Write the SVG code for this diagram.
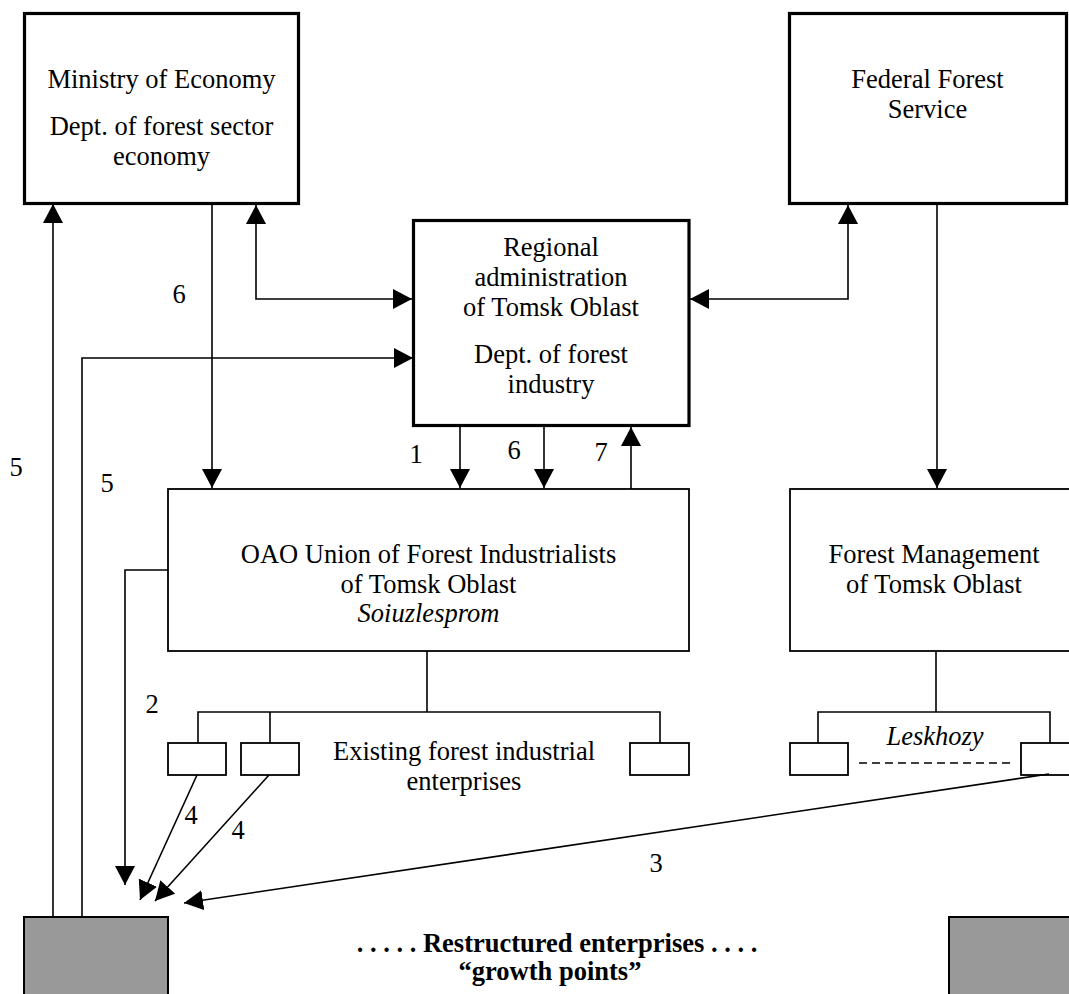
<svg xmlns="http://www.w3.org/2000/svg" width="1069" height="994" viewBox="0 0 1069 994">
<style>
text{font-family:"Liberation Serif","Times New Roman",serif;font-size:26.5px;fill:#000}
.c{text-anchor:middle}
.i{font-style:italic}
.b{font-weight:bold;font-size:26.5px}
.thick{fill:#fff;stroke:#000;stroke-width:3.2}
.thin{fill:#fff;stroke:#000;stroke-width:1.8}
.gray{fill:#999;stroke:#000;stroke-width:2}
.ln{fill:none;stroke:#000;stroke-width:1.6}
.dash{fill:none;stroke:#000;stroke-width:1.6;stroke-dasharray:8,5}
</style>
<defs>
<marker id="ah" viewBox="0 0 19 20" refX="19" refY="10" markerWidth="19" markerHeight="20" markerUnits="userSpaceOnUse" orient="auto-start-reverse">
<path d="M0,0 L19,10 L0,20 z" fill="#000"/>
</marker>
</defs>
<rect width="1069" height="994" fill="#fff"/>

<g id="ministry">
<rect class="thick" x="24.5" y="13.5" width="274" height="190"/>
<text class="c" x="161.5" y="88">Ministry of Economy</text>
<text class="c" x="161.5" y="135">Dept. of forest sector</text>
<text class="c" x="161.5" y="165">economy</text>
</g>

<g id="federal">
<rect class="thick" x="789.5" y="13.5" width="277" height="190"/>
<text class="c" x="927.5" y="88">Federal Forest</text>
<text class="c" x="927.5" y="118">Service</text>
</g>

<g id="regional">
<rect class="thick" x="413.5" y="220.5" width="275.5" height="205"/>
<text class="c" x="551" y="256">Regional</text>
<text class="c" x="551" y="286">administration</text>
<text class="c" x="551" y="316">of Tomsk Oblast</text>
<text class="c" x="551" y="363">Dept. of forest</text>
<text class="c" x="551" y="393">industry</text>
</g>

<g id="oao">
<rect class="thin" x="168" y="489" width="521" height="162"/>
<text class="c" x="428.5" y="563">OAO Union of Forest Industrialists</text>
<text class="c" x="428.5" y="593">of Tomsk Oblast</text>
<text class="c i" x="428.5" y="622">Soiuzlesprom</text>
</g>

<g id="forest-management">
<rect class="thin" x="790" y="489" width="290" height="162"/>
<text class="c" x="934" y="563">Forest Management</text>
<text class="c" x="934" y="593">of Tomsk Oblast</text>
</g>

<g id="existing-enterprises">
<rect class="thin" x="168" y="743" width="58" height="32"/>
<rect class="thin" x="241" y="743" width="58" height="32"/>
<rect class="thin" x="630" y="743" width="59" height="32"/>
<text class="c" x="464" y="760">Existing forest industrial</text>
<text class="c" x="464" y="790">enterprises</text>
</g>

<g id="leskhozy">
<rect class="thin" x="790" y="743" width="58" height="32"/>
<rect class="thin" x="1021" y="743" width="60" height="32"/>
<text class="c i" x="935" y="745">Leskhozy</text>
</g>

<g id="restructured">
<rect class="gray" x="24" y="917" width="144" height="90"/>
<rect class="gray" x="949" y="917" width="130" height="90"/>
<text class="c b" x="557" y="952">. . . . . Restructured enterprises . . . .</text>
<text class="c b" x="550" y="980">“growth points”</text>
</g>

<g id="connectors">
<!-- 5: restructured to ministry -->
<path class="ln" d="M53,917 V204" marker-end="url(#ah)"/>
<!-- 5: restructured to regional -->
<path class="ln" d="M82,917 V358 H413" marker-end="url(#ah)"/>
<!-- 6: ministry to OAO -->
<path class="ln" d="M212,204 V488" marker-end="url(#ah)"/>
<!-- ministry <-> regional -->
<path class="ln" d="M256,205 V299 H412" marker-start="url(#ah)" marker-end="url(#ah)"/>
<!-- regional <-> federal -->
<path class="ln" d="M690,299 H848 V205" marker-start="url(#ah)" marker-end="url(#ah)"/>
<!-- federal to forest management -->
<path class="ln" d="M937,204 V488" marker-end="url(#ah)"/>
<!-- 1, 6, 7 -->
<path class="ln" d="M460,427 V488" marker-end="url(#ah)"/>
<path class="ln" d="M544,427 V488" marker-end="url(#ah)"/>
<path class="ln" d="M631,489 V427" marker-end="url(#ah)"/>
<!-- 2 -->
<path class="ln" d="M168,570 H125 V885" marker-end="url(#ah)"/>
<!-- OAO tree -->
<path class="ln" d="M427,651 V712 M198,743 V712 H660 V743 M270,712 V743"/>
<!-- FM tree -->
<path class="ln" d="M936,651 V712 M818,743 V712 H1050 V743"/>
<path class="dash" d="M859,763 H1012"/>
<!-- 4, 4 -->
<path class="ln" d="M197,775 L140,900" marker-end="url(#ah)"/>
<path class="ln" d="M269,775 L155,901" marker-end="url(#ah)"/>
<!-- 3 -->
<path class="ln" d="M1049,774 L184,903" stroke-width="2" marker-end="url(#ah)"/>
</g>

<g id="labels">
<text class="c" x="179" y="303">6</text>
<text class="c" x="16" y="476">5</text>
<text class="c" x="107" y="492">5</text>
<text class="c" x="416" y="463">1</text>
<text class="c" x="514" y="459">6</text>
<text class="c" x="601" y="461">7</text>
<text class="c" x="152" y="713">2</text>
<text class="c" x="191" y="824">4</text>
<text class="c" x="238" y="839">4</text>
<text class="c" x="656" y="872">3</text>
</g>
</svg>
